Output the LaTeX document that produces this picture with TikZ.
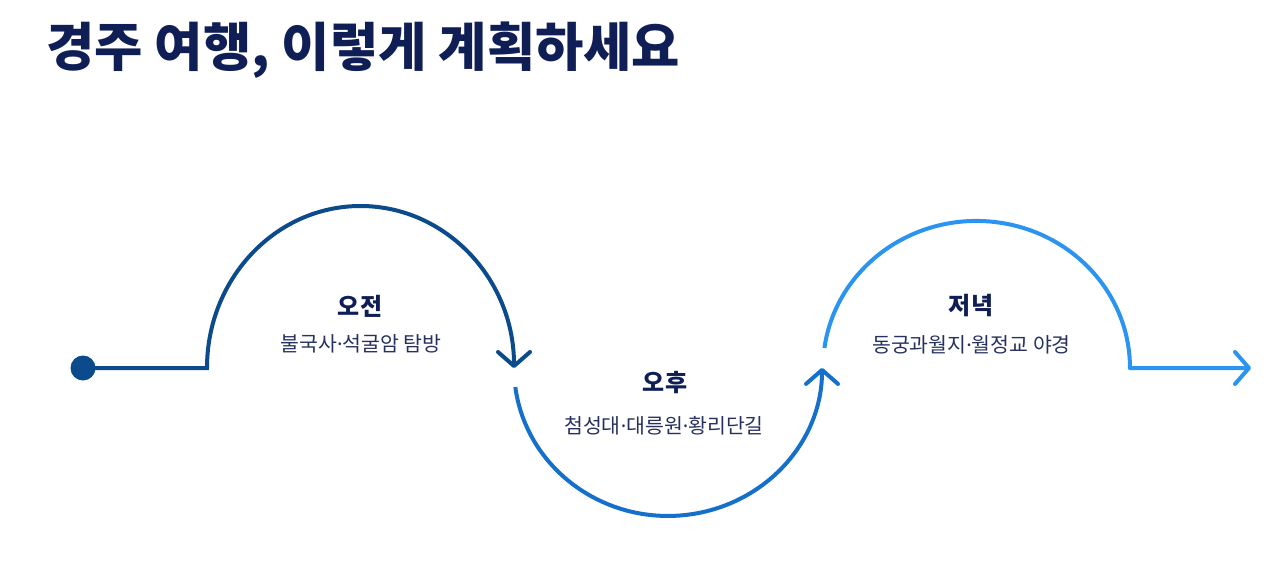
\documentclass[tikz,border=0pt]{standalone}
\usepackage{fontspec}
\newfontfamily\krfont{Noto Sans CJK KR}
\newfontfamily\dotfont{Noto Sans}
\newcommand\spotdot{{\dotfont ·}}
\usetikzlibrary{arrows.meta}
\definecolor{headnavy}{HTML}{0F1E55}
\definecolor{textnavy}{HTML}{27315E}
\definecolor{amblue}{HTML}{0B4A8B}
\definecolor{pmblue}{HTML}{1570CC}
\definecolor{evblue}{HTML}{2B93F0}
\tikzset{
  route/.style={line width=4pt},
  chevron/.style={-{Straight Barb[length=14pt,width=32pt,round]}},
  stage/.style={anchor=base,text=headnavy,font=\krfont\bfseries\fontsize{24}{28}\selectfont,inner sep=0pt},
  place/.style={anchor=base,text=textnavy,font=\krfont\fontsize{20.5}{24}\selectfont,inner sep=0pt}
}
\begin{document}
\begin{tikzpicture}[x=1pt,y=1pt]
		\useasboundingbox (0,0) rectangle (1287,-581);
		\node[anchor=base west,inner sep=0pt,text=headnavy,font=\krfont\bfseries\fontsize{52.5}{58}\selectfont] (title) at (46,-66) {경주 여행, 이렇게 계획하세요};

		\node[circle,fill=amblue,minimum size=25pt,inner sep=0pt] (start) at (83,-368) {};
		\coordinate (amL) at (207,-368);
		\coordinate (pmL) at (515.3,-387);
		\coordinate (evL) at (824.4,-348);
		\coordinate (evR) at (1130,-368);
		\coordinate (finish) at (1251,-368);

		\draw[route,amblue,chevron] (start.center) -- (amL) arc[start angle=180,end angle=0,x radius=153.5,y radius=162];
		\draw[route,pmblue,chevron] (pmL) arc[start angle=187.4,end angle=360,x radius=154,y radius=148];
		\draw[route,evblue,chevron] (evL) arc[start angle=172.2,end angle=0,x radius=153.5,y radius=147] -- (evR) -- (finish);

		\node[stage] (amHead) at (360,-315) {오전};
		\node[place] (amSpot) at (361,-351) {불국사\spotdot 석굴암 탐방};
		\node[stage] (pmHead) at (665,-391) {오후};
		\node[place] (pmSpot) at (664,-433) {첨성대\spotdot 대릉원\spotdot 황리단길};
		\node[stage] (evHead) at (971,-314) {저녁};
		\node[place] (evSpot) at (971.5,-352) {동궁과월지\spotdot 월정교 야경};
\end{tikzpicture}
\end{document}
